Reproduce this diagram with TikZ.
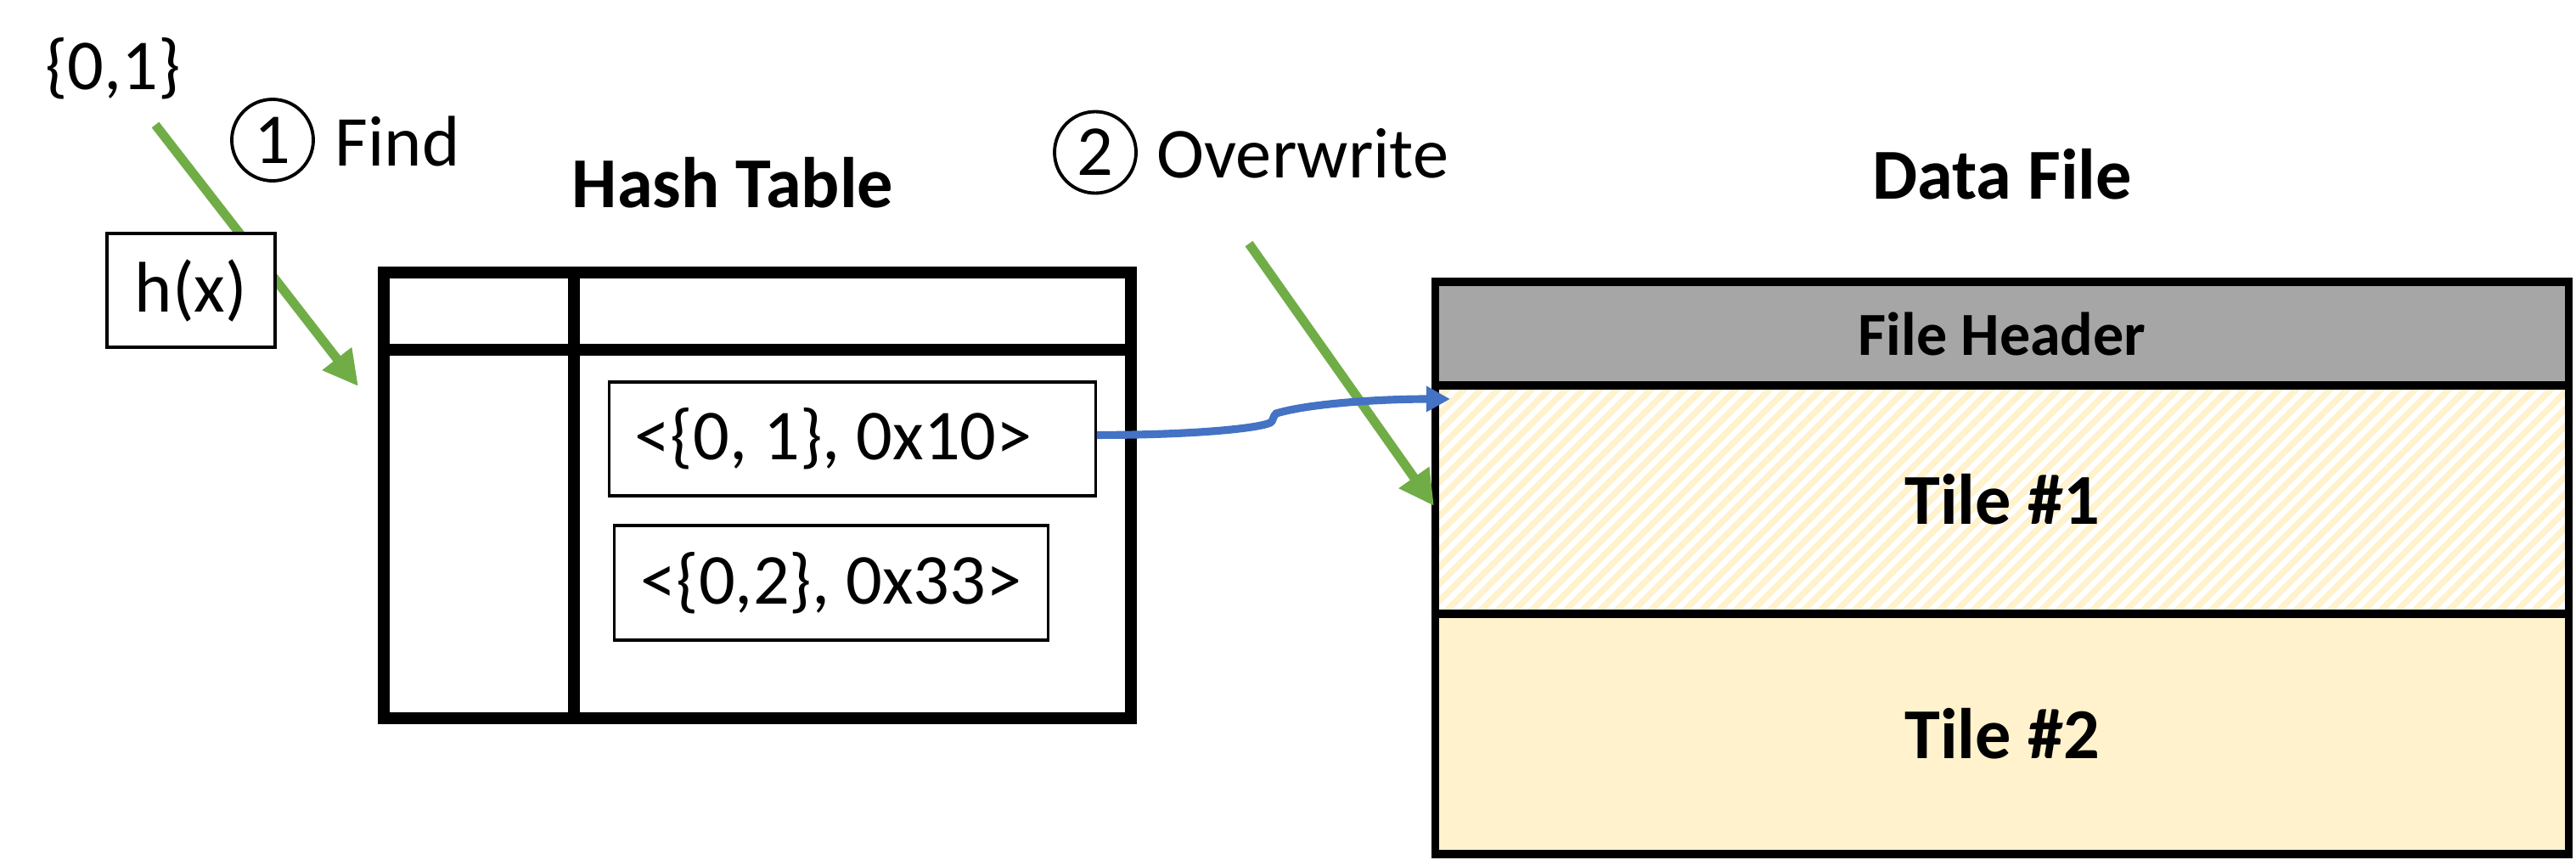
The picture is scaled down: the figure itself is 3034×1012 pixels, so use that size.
\documentclass[tikz,border=0pt]{standalone}
\usepackage{fontspec}
\setmainfont{Carlito}
\usetikzlibrary{arrows.meta,backgrounds}
\definecolor{findgreen}{HTML}{70AD47}
\definecolor{linkblue}{HTML}{4472C4}
\definecolor{hdrgray}{HTML}{A6A6A6}
\definecolor{tilecream}{HTML}{FFF2CC}
\frenchspacing
\tikzset{
  lbl/.style={inner sep=0pt,font=\fontsize{24pt}{28pt}\selectfont},
  ttl/.style={inner sep=0pt,font=\fontsize{24pt}{28pt}\selectfont\bfseries},
  num/.style={circle,draw,line width=1.1pt,minimum size=27.3pt,inner sep=0pt,
    font=\fontsize{24pt}{28pt}\selectfont},
  entry/.style={draw,line width=0.9pt,fill=white,inner sep=0pt,
    font=\fontsize{24pt}{28pt}\selectfont},
  tblline/.style={line width=4pt},
  tile/.style={draw,line width=2.7pt,minimum width=379.7pt,
    font=\fontsize{24pt}{28pt}\selectfont\bfseries},
  findarrow/.style={findgreen,line width=3.1pt,-{Triangle[length=11.7pt,width=11.7pt]}},
  link/.style={linkblue,line width=2.6pt,-{Triangle[length=8pt,width=8.2pt]}},
  hatchline/.style={tilecream,line width=2.1pt}
}
\begin{document}
\begin{tikzpicture}[x=0.01cm,y=-0.01cm,line join=miter]
  \useasboundingbox (0,0) rectangle (3034,1012);

  \node[lbl,anchor=base] (key) at (133,105) {\{0,1\}};
  \node[num] (c1) at (321,165) {1};
  \node[lbl,anchor=base west] (find) at (394,195) {Find};
  \node[num] (c2) at (1290,179.5) {2};
  \node[lbl,anchor=base west] (ovw) at (1362,209) {Overwrite};
  \node[ttl,anchor=base] (httl) at (863,244) {Hash Table};
  \node[ttl,anchor=base] (dttl) at (2358,234) {Data File};

  \coordinate (f0) at (183,147);
  \coordinate (f1) at (422,455);
  \draw[findarrow] (f0) -- (f1);
  \node[entry,minimum width=56.3pt,minimum height=38.1pt] (hx) at (225,342) {h(x)};

  \draw[tblline] (452,321) rectangle (1332,846);
  \draw[tblline] (452,412) -- (1332,412);
  \draw[tblline] (676,321) -- (676,846);
  \node[entry,minimum width=162.8pt,minimum height=38.1pt] (e1) at (1004,517) {};
  \node[lbl,anchor=west] (e1txt) at ([xshift=8.8pt]e1.west) {<\{0, 1\}, 0x10>};
  \node[entry,minimum width=145.1pt,minimum height=38.4pt]
    (e2) at (979,686.5) {<\{0,2\}, 0x33>};

  \node[tile,fill=hdrgray,minimum height=34.7pt,
    font=\fontsize{20.5pt}{24pt}\selectfont\bfseries] (hdr) at (2358,393) {File Header};
  \node[tile,minimum height=76.5pt] (t1) at (2358,588.5) {Tile \#1};
  \node[tile,fill=tilecream,minimum height=80.5pt] (t2) at (2358,864.5) {Tile \#2};
  \begin{scope}[on background layer]
    \clip (t1.north west) rectangle (t1.south east);
    \foreach \x in {1420,1440,...,3040}
      \draw[hatchline] (\x,723) -- ++(269,-269);
  \end{scope}

  \coordinate (w0) at (1471,287);
  \coordinate (w1) at (1689,596);
  \draw[findarrow] (w0) -- (w1);

  \coordinate (t1in) at (1708,470);
  \draw[link] ([yshift=1.3pt]e1.east) .. controls +(110,0) and +(-16,7) .. (1496,498)
    .. controls +(4,-2) and +(-4,3) .. (1503,487)
    .. controls +(40,-12) and +(-80,0) .. (t1in);
\end{tikzpicture}
\end{document}
